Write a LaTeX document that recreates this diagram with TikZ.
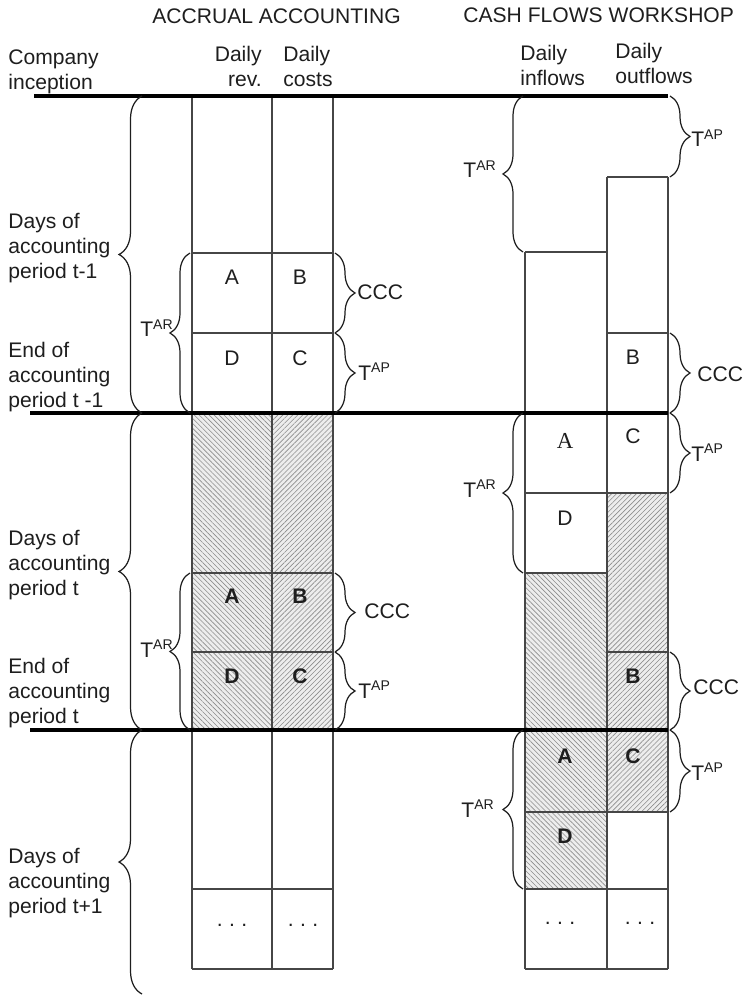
\documentclass[tikz,border=0pt]{standalone}
\usepackage{fontspec}
\setmainfont{Liberation Sans}
\newfontfamily\serifA{Liberation Serif}
\usetikzlibrary{decorations.pathreplacing,patterns.meta}
\definecolor{lineG}{RGB}{70,70,70}
\definecolor{hatchG}{RGB}{140,140,140}
\definecolor{inkK}{RGB}{30,30,30}
\newcommand{\spacedots}{.\hspace{0.3em}.\hspace{0.3em}.}

\begin{document}
\begin{tikzpicture}[x=0.02cm, y=-0.02cm, font=\fontsize{12}{14.2}\selectfont, text=inkK,
  cell/.style={draw=lineG, line width=0.65pt},
  rule/.style={line width=1.8pt, black},
  hatchL/.style={preaction={fill=black!7}, pattern color=hatchG,
                 pattern={Lines[angle=-45, distance=2pt, line width=0.35pt]}},
  hatchR/.style={preaction={fill=black!7}, pattern color=hatchG,
                 pattern={Lines[angle=45, distance=2pt, line width=0.35pt]}},
  bigbrace/.style={decorate, decoration={brace, amplitude=0.46cm}, draw=inkK, line width=0.7pt},
  smallbrace/.style={decorate, decoration={brace, amplitude=0.4cm}, draw=inkK, line width=0.7pt},
  lbl/.style={inner sep=0pt},
  side/.style={inner sep=0pt, anchor=north west, align=left},
  letter/.style={inner sep=0pt, anchor=base}]
  \useasboundingbox (0,0) rectangle (743,996);

  % hatched days
  \fill[hatchL] (192,413) rectangle (272,730);
  \fill[hatchR] (272,413) rectangle (333,730);
  \fill[hatchL] (525,573) rectangle (607,889);
  \fill[hatchR] (607,493) rectangle (668,812);

  % accrual columns
  \draw[cell] (192,96) -- (192,969);
  \draw[cell] (272,96) -- (272,969);
  \draw[cell] (333,96) -- (333,969);
  \foreach \y in {253,333,573,652,889,969}
    \draw[cell] (192,\y) -- (333,\y);

  % cash flow columns
  \draw[cell] (525,252) -- (525,969);
  \draw[cell] (607,177) -- (607,969);
  \draw[cell] (668,177) -- (668,969);
  \draw[cell] (525,252) -- (607,252);
  \draw[cell] (607,177) -- (668,177);
  \draw[cell] (607,333) -- (668,333);
  \draw[cell] (607,652) -- (668,652);
  \draw[cell] (525,573) -- (607,573);
  \foreach \y in {493,812,889,969}
    \draw[cell] (525,\y) -- (668,\y);

  % period boundaries
  \draw[rule] (34,96) -- (668,96);
  \draw[rule] (30,413) -- (668,413);
  \draw[rule] (30,730) -- (668,730);

  % headings
  \node[side] (accTitle) at (152,8) {ACCRUAL ACCOUNTING};
  \node[side] (cashTitle) at (463,7) {CASH FLOWS WORKSHOP};
  \node[side] (incept) at (8,49) {Company\\inception};
  \node[side, anchor=north east, align=right] (revHead) at (262,46) {Daily\\rev.};
  \node[side] (costHead) at (283,46) {Daily\\costs};
  \node[side] (inHead) at (520,45) {Daily\\inflows};
  \node[side] (outHead) at (615,43) {Daily\\outflows};

  % period texts
  \node[side] (daysA) at (8,213) {Days of\\accounting\\period t-1};
  \node[side] (endA) at (8,342) {End of\\accounting\\period t -1};
  \node[side] (daysB) at (8,530) {Days of\\accounting\\period t};
  \node[side] (endB) at (8,658) {End of\\accounting\\period t};
  \node[side] (daysC) at (8,848) {Days of\\accounting\\period t+1};

  % period braces
  \draw[bigbrace] (142,413) -- (142,96);
  \draw[bigbrace] (142,730) -- (142,413);
  \draw[bigbrace] (142,994) -- (142,730);

  % accrual cells, period t-1
  \node[letter] (accA1) at (232,285) {A};
  \node[letter] (accB1) at (300,285) {B};
  \node[letter] (accD1) at (232,365) {D};
  \node[letter] (accC1) at (300,365) {C};
  \draw[smallbrace] (190,413) -- (190,253);
  \draw[smallbrace] (335,253) -- (335,333);
  \draw[smallbrace] (335,333) -- (335,413);
  \node[lbl, anchor=base east] (accTar1) at (174,337) {T\textsuperscript{AR}};
  \node[lbl, anchor=base west] (accCcc1) at (357,300) {CCC};
  \node[lbl, anchor=base west] (accTap1) at (358,380) {T\textsuperscript{AP}};

  % accrual cells, period t
  \node[letter, font=\fontsize{12}{14.2}\selectfont\bfseries] (accA2) at (232,603) {A};
  \node[letter, font=\fontsize{12}{14.2}\selectfont\bfseries] (accB2) at (300,603) {B};
  \node[letter, font=\fontsize{12}{14.2}\selectfont\bfseries] (accD2) at (232,683) {D};
  \node[letter, font=\fontsize{12}{14.2}\selectfont\bfseries] (accC2) at (300,683) {C};
  \draw[smallbrace] (190,730) -- (190,573);
  \draw[smallbrace] (335,573) -- (335,652);
  \draw[smallbrace] (335,652) -- (335,730);
  \node[lbl, anchor=base east] (accTar2) at (174,657) {T\textsuperscript{AR}};
  \node[lbl, anchor=base west] (accCcc2) at (364,618) {CCC};
  \node[lbl, anchor=base west] (accTap2) at (358,698) {T\textsuperscript{AP}};

  % accrual, period t+1
  \node[lbl] (accDots1) at (232,925) {\spacedots};
  \node[lbl] (accDots2) at (303,925) {\spacedots};

  % cash flows, period t-1
  \draw[smallbrace] (523,252) -- (523,96);
  \draw[smallbrace] (670,96) -- (670,177);
  \draw[smallbrace] (670,333) -- (670,413);
  \node[lbl, anchor=base east] (cashTar1) at (497,178) {T\textsuperscript{AR}};
  \node[lbl, anchor=base west] (cashTap1) at (691,147) {T\textsuperscript{AP}};
  \node[letter] (cashB1) at (633,364) {B};
  \node[lbl, anchor=base west] (cashCcc1) at (697,381) {CCC};

  % cash flows, period t
  \node[letter, font=\fontsize{13}{14.2}\selectfont\serifA] (cashA2) at (565,448) {A};
  \node[letter] (cashC2) at (633,443) {C};
  \node[letter] (cashD2) at (565,525) {D};
  \node[letter, font=\fontsize{12}{14.2}\selectfont\bfseries] (cashB2) at (633,683) {B};
  \draw[smallbrace] (523,573) -- (523,413);
  \draw[smallbrace] (670,413) -- (670,493);
  \draw[smallbrace] (670,652) -- (670,730);
  \node[lbl, anchor=base east] (cashTar2) at (497,497) {T\textsuperscript{AR}};
  \node[lbl, anchor=base west] (cashTap2) at (691,461) {T\textsuperscript{AP}};
  \node[lbl, anchor=base west] (cashCcc2) at (693,694) {CCC};

  % cash flows, period t+1
  \node[letter, font=\fontsize{12}{14.2}\selectfont\bfseries] (cashA3) at (565,763) {A};
  \node[letter, font=\fontsize{12}{14.2}\selectfont\bfseries] (cashC3) at (633,763) {C};
  \node[letter, font=\fontsize{12}{14.2}\selectfont\bfseries] (cashD3) at (565,843) {D};
  \draw[smallbrace] (523,889) -- (523,730);
  \draw[smallbrace] (670,730) -- (670,812);
  \node[lbl, anchor=base east] (cashTar3) at (495,817) {T\textsuperscript{AR}};
  \node[lbl, anchor=base west] (cashTap3) at (691,780) {T\textsuperscript{AP}};
  \node[lbl] (cashDots1) at (560,923) {\spacedots};
  \node[lbl] (cashDots2) at (640,923) {\spacedots};
\end{tikzpicture}
\end{document}
